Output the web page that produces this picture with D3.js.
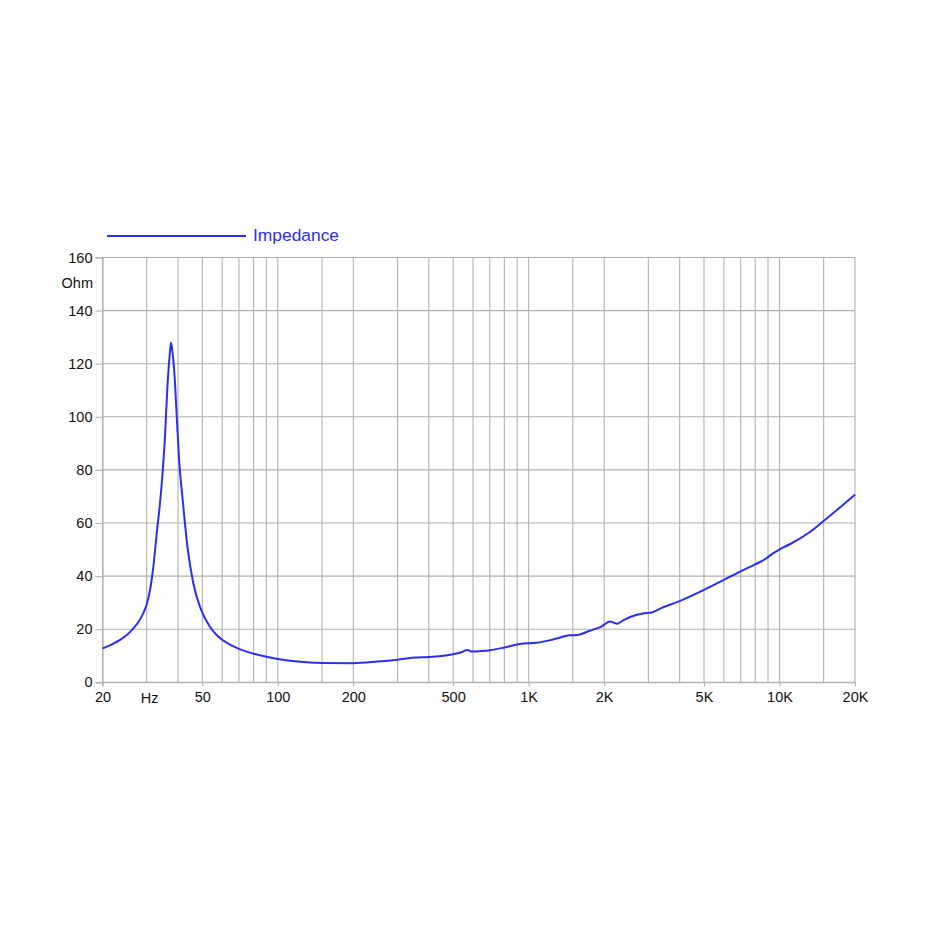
<!DOCTYPE html>
<html>
<head>
<meta charset="utf-8">
<script src="https://cdn.jsdelivr.net/npm/d3@7"></script>
<style>
  html, body { margin: 0; padding: 0; background: #fff; }
  svg { display: block; font-family: "Liberation Sans", Arial, Helvetica, sans-serif; }
</style>
</head>
<body>
<svg id="chart" width="931" height="931"></svg>
<script>
// ---- data ----
const seriesName = "Impedance";
const freqs = [20, 22, 23.5, 25, 26.5, 28, 29, 30, 31.1, 31.9, 32.9, 34.2, 35.5, 36.3, 37, 37.5, 38, 38.6, 39.6, 40.4, 42, 43.6, 46, 48.9, 53.5, 57, 60, 65, 70, 80, 90, 100, 120, 150, 200, 250, 300, 350, 400, 450, 500, 540, 570, 590, 650, 700, 800, 920, 1080, 1250, 1460, 1560, 1760, 1950, 2110, 2180, 2250, 2400, 2540, 2850, 3100, 3430, 4000, 5000, 6000, 7000, 8000, 8900, 9300, 10100, 11000, 13300, 15200, 17400, 20000];
const ohms  = [12.8, 14.5, 16, 17.8, 20.2, 23.2, 25.8, 29.3, 36, 43.6, 56, 71.3, 92.7, 111.5, 122.5, 128, 124.5, 117.9, 99, 84, 66.3, 51.2, 37.4, 28.5, 21, 17.8, 16, 14, 12.6, 10.8, 9.6, 8.8, 7.8, 7.3, 7.2, 7.8, 8.5, 9.3, 9.5, 9.9, 10.6, 11.3, 12.2, 11.6, 11.8, 12.1, 13.1, 14.4, 14.9, 16.1, 17.7, 17.8, 19.5, 21, 22.9, 22.5, 22.1, 23.5, 24.6, 25.9, 26.3, 28.2, 30.6, 34.8, 38.6, 41.8, 44.4, 46.8, 48.2, 50.3, 52, 56.8, 61.2, 65.8, 70.7];
const gridFreqs = [20, 30, 40, 50, 60, 70, 80, 90, 100, 150, 200, 300, 400, 500, 600, 700, 800, 900, 1000, 1500, 2000, 3000, 4000, 5000, 6000, 7000, 8000, 9000, 10000, 15000, 20000];
const xTickValues = [20, 50, 100, 200, 500, 1000, 2000, 5000, 10000, 20000];
const xTickLabels = ["20", "50", "100", "200", "500", "1K", "2K", "5K", "10K", "20K"];
const yTickValues = [0, 20, 40, 60, 80, 100, 120, 140, 160];
const xUnit = "Hz", xUnitAt = 30.8;
const yUnit = "Ohm";

// ---- layout ----
const svg = d3.select("#chart");
const x = d3.scaleLog().domain([20, 20000]).range([102.5, 855]);
const y = d3.scaleLinear().domain([0, 160]).range([682.3, 257.5]);
const gridColor = "#b0b0b0";
const curveColor = "#2d2df2";
const textColor = "#111";

// grid
const g = svg.append("g");
g.selectAll("line.v").data(gridFreqs).join("line")
  .attr("x1", d => x(d)).attr("x2", d => x(d))
  .attr("y1", y(160)).attr("y2", y(0))
  .attr("stroke", gridColor).attr("stroke-width", 1.1);
g.selectAll("line.h").data(yTickValues).join("line")
  .attr("x1", x(20)).attr("x2", x(20000))
  .attr("y1", d => y(d)).attr("y2", d => y(d))
  .attr("stroke", gridColor).attr("stroke-width", 1.1);

// axes (ticks + labels)
const yAxis = d3.axisLeft(y).tickValues(yTickValues).tickSize(7).tickPadding(3);
const ya = svg.append("g").attr("transform", `translate(${x(20)},0)`).call(yAxis);
ya.select(".domain").attr("stroke", gridColor).attr("stroke-width", 1.1);
ya.selectAll(".tick line").attr("stroke", gridColor).attr("stroke-width", 1.1);
ya.selectAll(".tick text").attr("font-size", 14.5).attr("fill", textColor)
  .attr("font-family", "'Liberation Sans', Arial, sans-serif");

const xAxis = d3.axisBottom(x).tickValues(xTickValues)
  .tickFormat((d, i) => xTickLabels[i]).tickSize(4).tickPadding(5);
const xa = svg.append("g").attr("transform", `translate(0,${y(0)})`).call(xAxis);
xa.select(".domain").attr("stroke", gridColor).attr("stroke-width", 1.1);
xa.selectAll(".tick line").attr("stroke", gridColor).attr("stroke-width", 1.1);
xa.selectAll(".tick text").attr("font-size", 14.5).attr("fill", textColor)
  .attr("font-family", "'Liberation Sans', Arial, sans-serif");

// unit labels
svg.append("text").attr("x", x(xUnitAt)).attr("y", 703).attr("text-anchor", "middle")
  .attr("font-size", 14.5).attr("fill", textColor).text(xUnit);
svg.append("text").attr("x", 93).attr("y", 288).attr("text-anchor", "end")
  .attr("font-size", 14.5).attr("fill", textColor).text(yUnit);

// curve
const data = freqs.map((f, i) => ({ f, v: ohms[i] }));
const line = d3.line().x(d => x(d.f)).y(d => y(d.v)).curve(d3.curveMonotoneX);
svg.append("path").datum(data).attr("d", line)
  .attr("fill", "none").attr("stroke", curveColor).attr("stroke-width", 2)
  .attr("stroke-linejoin", "round");

// legend
svg.append("line").attr("x1", 107).attr("x2", 246).attr("y1", 236).attr("y2", 236)
  .attr("stroke", curveColor).attr("stroke-width", 2);
svg.append("text").attr("x", 253).attr("y", 240.5).attr("font-size", 17.4)
  .attr("fill", curveColor).text(seriesName);
</script>
</body>
</html>
